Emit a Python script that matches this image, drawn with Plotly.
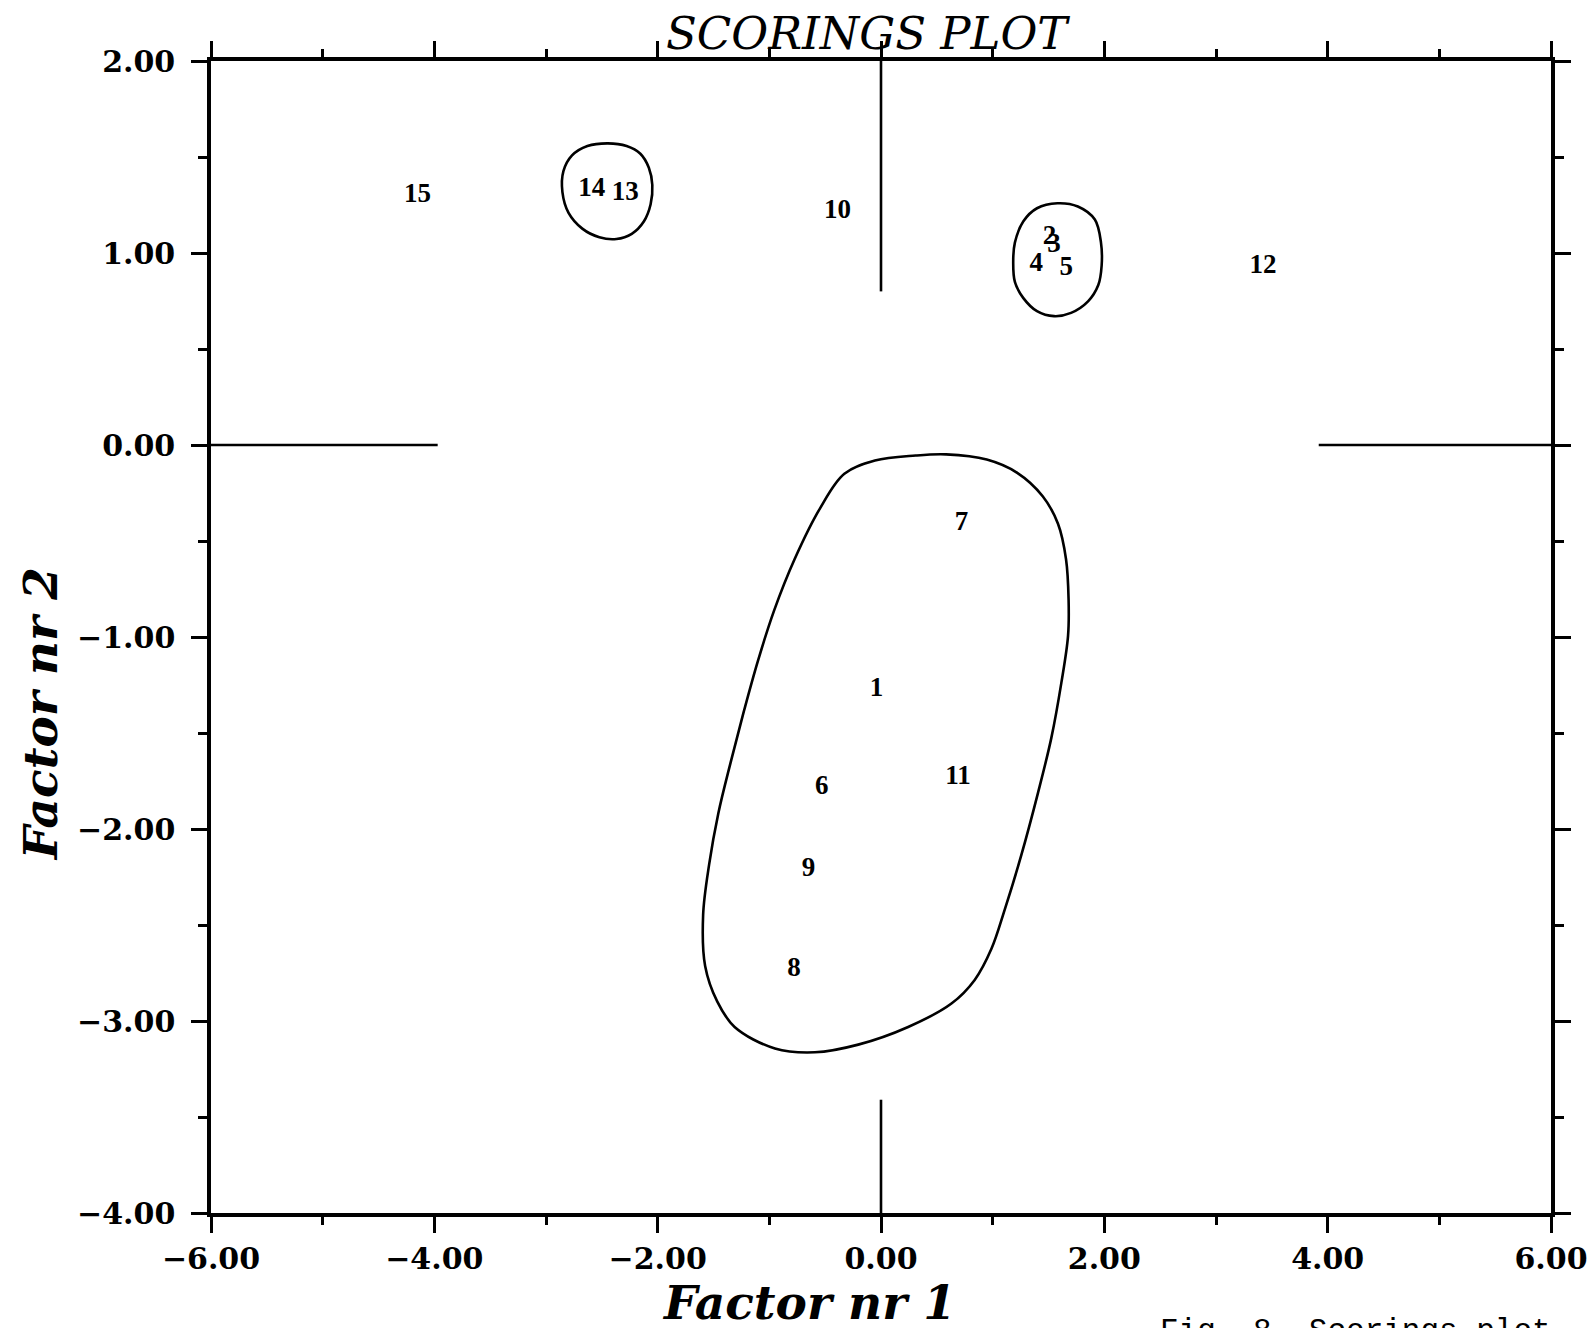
import plotly.graph_objects as go

# ---- data ----
point_labels = ["15", "14", "13", "10", "2", "3", "4", "5", "12", "7", "1", "6", "11", "9", "8"]
point_x = [-4.15, -2.59, -2.29, -0.39, 1.51, 1.55, 1.39, 1.66, 3.42, 0.72, -0.04, -0.53, 0.69, -0.65, -0.78]
point_y = [1.30, 1.33, 1.31, 1.22, 1.08, 1.04, 0.94, 0.92, 0.93, -0.41, -1.27, -1.78, -1.73, -2.21, -2.73]

big_x = [0.583, 0.947, 1.220, 1.448, 1.585, 1.657, 1.680, 1.675, 1.615, 1.526, 1.407, 1.257, 1.108,
         0.989, 0.839, 0.631, 0.243, -0.204, -0.592, -0.950, -1.311, -1.466, -1.575, -1.593, -1.539,
         -1.457, -1.347, -1.229, -1.102, -0.956, -0.774, -0.546, -0.328, -0.054, 0.310]
big_y = [-0.049, -0.076, -0.145, -0.267, -0.410, -0.595, -0.807, -0.994, -1.239, -1.524, -1.809,
         -2.135, -2.420, -2.624, -2.786, -2.909, -3.031, -3.123, -3.163, -3.143, -3.031, -2.899,
         -2.713, -2.448, -2.184, -1.919, -1.654, -1.389, -1.124, -0.860, -0.595, -0.330, -0.150,
         -0.081, -0.055]

c1_x = [-2.446, -2.278, -2.155, -2.079, -2.048, -2.063, -2.124, -2.232, -2.369, -2.522, -2.675,
        -2.798, -2.853, -2.844, -2.767, -2.629]
c1_y = [1.571, 1.557, 1.517, 1.444, 1.354, 1.254, 1.164, 1.100, 1.073, 1.082, 1.127, 1.209,
        1.317, 1.426, 1.508, 1.557]

c2_x = [1.580, 1.763, 1.915, 1.970, 1.976, 1.946, 1.854, 1.702, 1.550, 1.397, 1.275, 1.199,
        1.184, 1.199, 1.275, 1.397]
c2_y = [1.259, 1.242, 1.174, 1.054, 0.935, 0.833, 0.748, 0.688, 0.671, 0.697, 0.765, 0.850,
        0.952, 1.054, 1.165, 1.233]

# reference cross segments (axis x=0 / y=0 stubs)
vseg_top_y = [2.0, 0.80]
vseg_bot_y = [-3.41, -4.0]
hseg_left_x = [-6.0, -3.97]
hseg_right_x = [3.92, 6.0]

x_ticks = [-6, -4, -2, 0, 2, 4, 6]
y_ticks = [2, 1, 0, -1, -2, -3, -4]

fig = go.Figure()

line_style = dict(color="black", width=2.6)
for xs, ys in [(big_x, big_y), (c1_x, c1_y), (c2_x, c2_y)]:
    fig.add_trace(go.Scatter(x=xs + [xs[0]], y=ys + [ys[0]], mode="lines",
                             line=dict(color="black", width=2.6, shape="spline", smoothing=1.0),
                             hoverinfo="skip", showlegend=False))

fig.add_trace(go.Scatter(x=[0, 0], y=vseg_top_y, mode="lines", line=line_style, showlegend=False))
fig.add_trace(go.Scatter(x=[0, 0], y=vseg_bot_y, mode="lines", line=line_style, showlegend=False))
fig.add_trace(go.Scatter(x=hseg_left_x, y=[0, 0], mode="lines", line=line_style, showlegend=False))
fig.add_trace(go.Scatter(x=hseg_right_x, y=[0, 0], mode="lines", line=line_style, showlegend=False))

fig.add_trace(go.Scatter(x=point_x, y=point_y, mode="text", text=point_labels,
                         textposition="middle center",
                         textfont=dict(family="Liberation Serif", size=27, color="black", weight="bold"),
                         showlegend=False))

tickfont = dict(family="DejaVu Serif", size=30, color="black", weight="bold")

fig.update_xaxes(range=[-6, 6], tickvals=x_ticks, tickformat=".2f", ticks="outside",
                 ticklen=16, tickwidth=3, tickcolor="black",
                 minor=dict(dtick=1, ticklen=8, tickwidth=3, ticks="outside", tickcolor="black"),
                 showline=True, linewidth=3.5, linecolor="black", mirror="allticks",
                 showgrid=False, zeroline=False, tickfont=tickfont, ticklabelstandoff=0)
fig.update_yaxes(range=[-4, 2], tickvals=y_ticks, tickformat=".2f", ticks="outside",
                 ticklen=16, tickwidth=3, tickcolor="black",
                 minor=dict(dtick=0.5, ticklen=9, tickwidth=3, ticks="outside", tickcolor="black"),
                 showline=True, linewidth=3.5, linecolor="black", mirror="allticks",
                 showgrid=False, zeroline=False, tickfont=tickfont, ticklabelstandoff=10)

OFF = 8  # page body margin
W, H = 1595, 1328
L, T = 210.6 - OFF, 61 - OFF
PW, PH = 1340.6, 1152.5
R, B = W - L - PW, H - T - PH

def px(x):
    return (x - OFF - L) / PW

def py(y):
    return (T + PH - (y - OFF)) / PH

annots = [
    dict(text="SCORINGS PLOT", x=px(868), y=py(33), xanchor="center", yanchor="middle",
         font=dict(family="DejaVu Serif", size=45, style="italic", color="black")),
    dict(text="Factor nr 1", x=px(809), y=py(1303), xanchor="center", yanchor="middle",
         font=dict(family="DejaVu Serif", size=47, style="italic", weight="bold", color="black")),
    dict(text="Factor nr 2", x=px(40), y=py(714), xanchor="center", yanchor="middle", textangle=-90,
         font=dict(family="DejaVu Serif", size=47, style="italic", weight="bold", color="black")),
    dict(text="Fig. 8. Scorings plot", x=px(1158), y=py(1313), xanchor="left", yanchor="top",
         font=dict(family="Liberation Mono", size=31, color="black")),
]
for a in annots:
    a.update(xref="paper", yref="paper", showarrow=False)

fig.update_layout(width=W, height=H, margin=dict(l=L, r=R, t=T, b=B),
                  plot_bgcolor="white", paper_bgcolor="white", annotations=annots,
                  showlegend=False)

fig.write_html("out.html")
